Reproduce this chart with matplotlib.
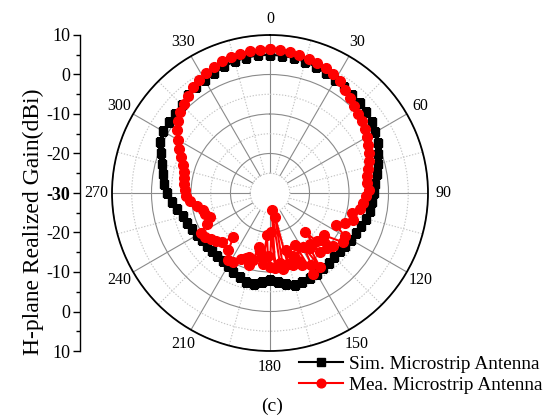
import numpy as np
import matplotlib
matplotlib.use("Agg")
import matplotlib.pyplot as plt

plt.rcParams['font.family'] = ['Liberation Serif', 'DejaVu Serif']
plt.rcParams['axes.unicode_minus'] = False

# ---------------- data ----------------
sim_angles = list(range(0, 360, 5))
sim_gain = [5.0, 4.9, 4.7, 4.4, 4.0, 3.5, 3.0, 2.7, 2.4, 2.1, 1.8, 1.4,
            0.8, 0.1, -0.8, -1.6, -2.5, -3.2, -3.6, -4.0, -4.4, -4.9, -5.5, -6.0,
            -6.4, -6.8, -7.0, -7.0, -6.9, -6.7, -6.4, -6.2, -6.1, -6.0, -6.5, -7.4,
            -7.9, -7.3, -6.6, -6.6, -7.5, -8.0, -8.6, -9.1, -9.3, -9.3, -9.2, -9.1,
            -8.8, -8.3, -7.7, -7.1, -6.2, -5.0, -3.8, -3.0, -2.4, -1.6, -0.5, 0.7,
            1.3, 1.3, 1.3, 1.6, 2.3, 2.7, 2.9, 3.4, 4.1, 4.5, 4.8, 4.95]

mea_angles = list(range(0, 129, 4)) + list(range(130, 201, 2)) + list(range(204, 360, 4))
mea_gain = [6.5, 6.4, 6.0, 5.7, 5.4, 5.0, 4.7, 4.2, 3.3, 2.2, 1.4, 0.6,
            0.0, -0.4, -1.0, -1.7, -2.3, -3.0, -3.6, -4.4, -5.0, -5.4, -4.9, -5.8,
            -6.3, -6.8, -8.7, -7.8, -9.5, -11.3, -8.2, -7.7, -12.6,
            # 130 .. 200 (2 deg)
            -9.3, -12.4, -10.0, -13.0, -16.8, -10.4, -13.5, -12.7, -7.5, -14.0,
            -9.0, -6.9, -15.4, -10.0, -11.3, -13.0, -10.8, -15.0, -11.5, -23.9,
            -10.5, -12.0, -25.7, -11.0, -20.0, -11.3, -14.0, -19.3, -12.0, -13.7,
            -15.2, -16.1, -12.5, -11.1, -13.0, -12.5,
            # 204 .. 356
            -11.8, -10.1, -10.0, -12.1, -15.6, -12.6, -11.7, -11.0, -10.2, -9.9,
            -12.2, -13.7, -12.8, -12.6, -11.3, -9.7, -8.8, -8.5, -8.0, -7.9,
            -7.6, -6.8, -5.8, -4.5, -3.2, -1.5, -0.3, 0.7, 1.4, 2.2,
            3.1, 3.8, 4.5, 5.0, 5.5, 5.8, 6.0, 6.2, 6.4]

angle_labels = ['0', '30', '60', '90', '120', '150', '180', '210', '240', '270', '300', '330']
left_tick_labels = ['10', '0', '-10', '-20', '-30', '-20', '-10', '0', '10']
series_names = ['Sim. Microstrip Antenna', 'Mea. Microstrip Antenna']
ylabel = 'H-plane Realized Gain(dBi)'

# ---------------- figure ----------------
W, H = 559, 419
fig = plt.figure(figsize=(W / 100, H / 100), dpi=100)

cx, cy, R = 270, 193, 158
ax = fig.add_axes([(cx - R) / W, (H - cy - R) / H, 2 * R / W, 2 * R / H], projection='polar')
ax.set_theta_zero_location('N')
ax.set_theta_direction(-1)
ax.set_ylim(-30, 10)

# grid
ax.set_yticks([-20, -10, 0, 10])
ax.set_yticks([-25, -15, -5, 5], minor=True)
ax.set_yticklabels([])
ax.tick_params(axis='y', which='both', length=0)
ax.set_xticks(np.deg2rad(np.arange(0, 360, 30)))
ax.set_xticks(np.deg2rad(np.arange(15, 360, 30)), minor=True)
ax.set_xticklabels([])
ax.tick_params(axis='x', which='major', direction='in', length=9, width=1.0, color='black')
ax.tick_params(axis='x', which='minor', direction='in', length=5, width=1.0, color='black')
ax.grid(True, which='major', color='#8a8a8a', lw=0.8, ls='-')
ax.grid(True, which='minor', color='#c4c4c4', lw=0.8, ls=(0, (1.2, 1.5)))
ax.spines['polar'].set_color('black')
ax.spines['polar'].set_linewidth(1.3)

# inner hole
tt = np.linspace(0, 2 * np.pi, 400)
ax.fill_between(tt, -30, -25, color='white', zorder=1.6, lw=0)
ax.plot(tt, np.full_like(tt, -25.0), color='#c4c4c4', lw=0.8, ls=(0, (1.2, 1.5)), zorder=1.7)

# data
l1, = ax.plot(np.deg2rad(sim_angles + [sim_angles[0]]), sim_gain + [sim_gain[0]],
              color='black', lw=1.5, marker='s', ms=6, mec='black', mfc='black', zorder=3)
l2, = ax.plot(np.deg2rad(mea_angles + [mea_angles[0]]), mea_gain + [mea_gain[0]],
              color='red', lw=1.5, marker='o', ms=7, mec='red', mfc='red', zorder=4)

# angle labels
r_lab = 10 + 16 / (R / 40.0)
for a, lab in zip(range(0, 360, 30), angle_labels):
    ax.text(np.deg2rad(a), r_lab, lab, ha='center', va='center', fontsize=11.5, clip_on=False)

# left linear axis
lax = fig.add_axes([80 / W, (H - cy - R) / H, 0.0005, 2 * R / H])
lax.set_ylim(-40, 40)
lax.set_xticks([])
for s in ['right', 'top', 'bottom']:
    lax.spines[s].set_visible(False)
lax.spines['left'].set_linewidth(1.0)
lax.set_yticks(np.arange(-40, 41, 10))
lax.set_yticklabels(left_tick_labels, fontsize=13)
lax.set_yticks(np.arange(-35, 40, 10), minor=True)
lax.tick_params(axis='y', which='major', direction='out', length=5, width=1.0, pad=2)
lax.tick_params(axis='y', which='minor', direction='out', length=3, width=1.0)
lax.get_yticklabels()[4].set_fontweight('bold')
lax.patch.set_visible(False)

fig.text(33 / W, 1 - 222 / H, ylabel, rotation=90, ha='center', va='center', fontsize=17)

# legend
fig.legend([l1, l2], series_names, loc='upper left', bbox_to_anchor=(299 / W, 1 - 355 / H),
           frameon=False, fontsize=13.9, handlelength=2.3, handletextpad=0.3,
           borderpad=0, borderaxespad=0, labelspacing=0.2, markerscale=0.9)

fig.text(272 / W, 1 - 406 / H, '(c)', ha='center', va='center', fontsize=14)

fig.savefig('out.png', dpi=100)
